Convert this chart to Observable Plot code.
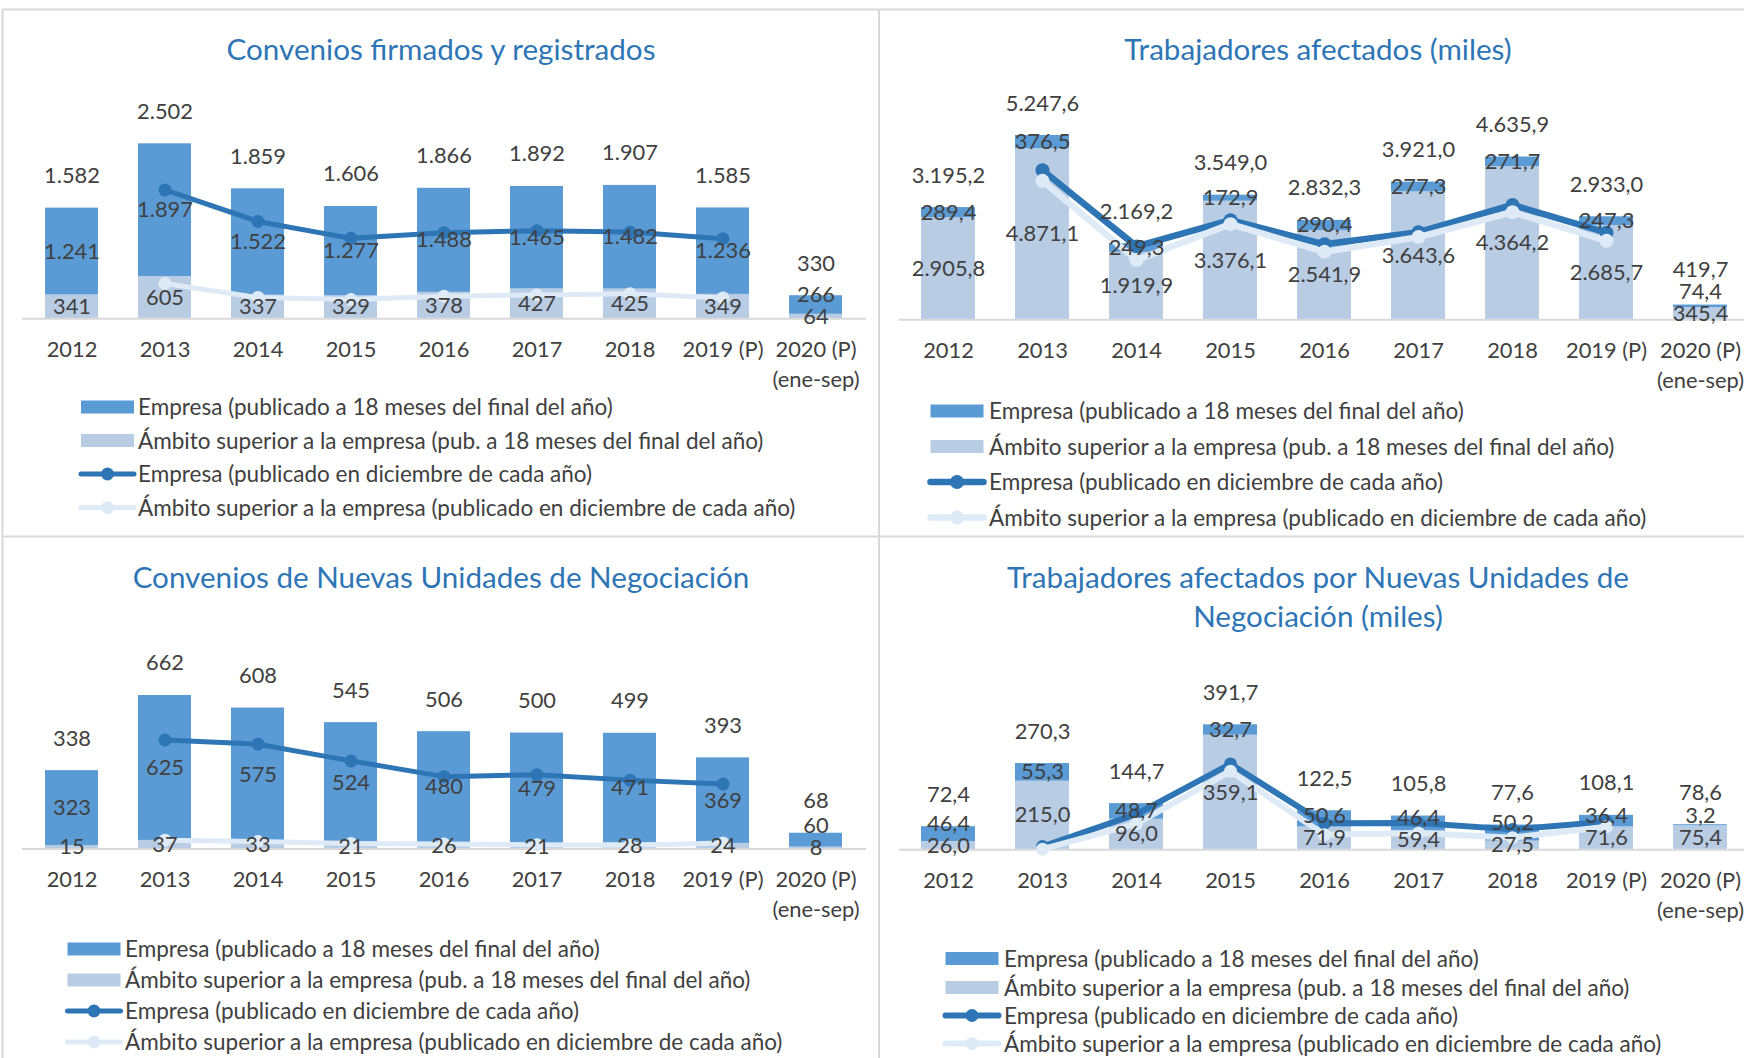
<!DOCTYPE html>
<html><head><meta charset="utf-8">
<script src="https://cdn.jsdelivr.net/npm/d3@7"></script>
<script src="https://cdn.jsdelivr.net/npm/@observablehq/plot@0.6"></script>
<style>
html,body{margin:0;padding:0;background:#fff;}
body{width:1744px;height:1058px;position:relative;overflow:hidden;}
</style></head><body>
<script>
// ---- categories ----
const years = ["2012","2013","2014","2015","2016","2017","2018","2019 (P)","2020 (P)"];
const lastYearLabel = "2020 (P)\n(ene-sep)";

// ---- Convenios firmados y registrados ----
const convEmpresa    = [1241,1897,1522,1277,1488,1465,1482,1236,266];
const convAmbito     = [341,605,337,329,378,427,425,349,64];
const convTotal      = [1582,2502,1859,1606,1866,1892,1907,1585,330];
const convEmpresaDic = [null,1843,1392,1150,1232,1260,1240,1145,null];
const convAmbitoDic  = [null,505,305,275,322,341,358,298,null];

// ---- Trabajadores afectados (miles) ----
const trabEmpresa    = [289.4,376.5,249.3,172.9,290.4,277.3,271.7,247.3,74.4];
const trabAmbito     = [2905.8,4871.1,1919.9,3376.1,2541.9,3643.6,4364.2,2685.7,345.4];
const trabTotal      = [3195.2,5247.6,2169.2,3549.0,2832.3,3921.0,4635.9,2933.0,419.7];
const trabEmpresaDic = [null,4260,2090,2838,2150,2494,3270,2480,null];
const trabAmbitoDic  = [null,3957,1700,2724,1935,2355,3064,2248,null];

// ---- Convenios de Nuevas Unidades de Negociación ----
const nuConvEmpresa    = [323,625,575,524,480,479,471,369,60];
const nuConvAmbito     = [15,37,33,21,26,21,28,24,8];
const nuConvTotal      = [338,662,608,545,506,500,499,393,68];
const nuConvEmpresaDic = [null,470,452,380,312,320,297,280,null];
const nuConvAmbitoDic  = [null,38,32,24,22,18,16,26,null];

// ---- Trabajadores afectados por Nuevas Unidades de Negociación (miles) ----
const nuTrabEmpresa    = [46.4,55.3,48.7,32.7,50.6,46.4,50.2,36.4,3.2];
const nuTrabAmbito     = [26.0,215.0,96.0,359.1,71.9,59.4,27.5,71.6,75.4];
const nuTrabTotal      = [72.4,270.3,144.7,391.7,122.5,105.8,77.6,108.1,78.6];
const nuTrabEmpresaDic = [null,10,112,269,83,84,64,88,null];
const nuTrabAmbitoDic  = [null,2,82,246,47,53,38,72,null];

const legendLabels = [
  "Empresa (publicado a 18 meses del final del año)",
  "Ámbito superior a la empresa (pub. a 18 meses del final del año)",
  "Empresa (publicado en diciembre de cada año)",
  "Ámbito superior a la empresa (publicado en diciembre de cada año)"
];

// ---- styling ----
const FONT = "Lato, 'Open Sans', sans-serif";
const C = {emp:"#5B9BD5", amb:"#B8CCE4", empDic:"#2E75B6", ambDic:"#DEEBF7", text:"#404040", title:"#2E75B6", grid:"#D9D9D9"};
const legendTypes = [["rect",C.emp],["rect",C.amb],["line",C.empDic],["line",C.ambDic]];

const locale = d3.formatLocale({decimal:",", thousands:".", grouping:[3], currency:["","€"]});
const fmtInt = locale.format(",.0f");
const fmtDec = locale.format(",.1f");

// calibrate font sizes against widths measured in the reference
const ctx = document.createElement("canvas").getContext("2d");
const measure = (s, size) => { ctx.font = `${size}px Lato`; return ctx.measureText(s).width; };
const fit = pairs => { let t = 0, m = 0; for (const [s, w] of pairs) { t += w; m += measure(s, 100); } return 100 * t / m; };
const labelSize = fit([["2012",47.7],["(ene-sep)",92.6],["2.502",53.3]]);
const legendSize = fit([[legendLabels[0],474],[legendLabels[3],659]]);
const titleSize = fit([["Convenios firmados y registrados",428.5],["Convenios de Nuevas Unidades de Negociación",609],["Trabajadores afectados (miles)",397]]);

const panels = [
  {title:["Convenios firmados y registrados"], titleX:441, titleY:[60],
   emp:convEmpresa, amb:convAmbito, tot:convTotal, empDic:convEmpresaDic, ambDic:convAmbitoDic, fmt:fmtInt,
   svgLeft:0, frame:[22,866], axisY:318.3, k:0.06994, svgTop:70, lineW:5, dotR:6.5,
   legend:{x:81, textX:138, rows:[407,440.5,474,507.5]}},
  {title:["Trabajadores afectados (miles)"], titleX:1318, titleY:[60],
   emp:trabEmpresa, amb:trabAmbito, tot:trabTotal, empDic:trabEmpresaDic, ambDic:trabAmbitoDic, fmt:fmtDec,
   svgLeft:879, frame:[899,1749], axisY:319.3, k:0.03512, svgTop:62, lineW:6.5, dotR:7,
   legend:{x:930.5, textX:989, rows:[411,446.5,482,517.5]}},
  {title:["Convenios de Nuevas Unidades de Negociación"], titleX:441, titleY:[588.3],
   emp:nuConvEmpresa, amb:nuConvAmbito, tot:nuConvTotal, empDic:nuConvEmpresaDic, ambDic:nuConvAmbitoDic, fmt:fmtInt,
   svgLeft:0, frame:[22,866], axisY:848.5, k:0.2319, svgTop:610, lineW:5, dotR:6.5,
   legend:{x:67.5, textX:125, rows:[949,980,1011,1042]}},
  {title:["Trabajadores afectados por Nuevas Unidades de","Negociación (miles)"], titleX:1318, titleY:[588.3,626.7],
   emp:nuTrabEmpresa, amb:nuTrabAmbito, tot:nuTrabTotal, empDic:nuTrabEmpresaDic, ambDic:nuTrabAmbitoDic, fmt:fmtDec,
   svgLeft:879, frame:[899,1749], axisY:849.3, k:0.3191, svgTop:640, lineW:6, dotR:6.5,
   legend:{x:945.5, textX:1004, rows:[958.5,987.5,1015.5,1043.5]}}
];

const GAP = 22, TOT_OFF = 32;

panels.forEach(p => {
  const W = 880;
  const inner = p.axisY - p.svgTop;
  const H = inner + 85;
  const ymax = d3.max(p.tot);
  const rows = [];
  years.forEach((c, i) => {
    rows.push({cat:c, serie:"amb", value:p.amb[i]});
    rows.push({cat:c, serie:"emp", value:p.emp[i]});
  });
  const labels = years.map((c, i) => {
    const ambC = p.amb[i] / 2;
    const empC = Math.max(p.amb[i] + p.emp[i] / 2, ambC + GAP / p.k);
    const totC = Math.max(p.tot[i] + TOT_OFF / p.k, empC + GAP / p.k);
    return {cat:c, ambC, empC, totC, amb:p.amb[i], emp:p.emp[i], tot:p.tot[i]};
  });
  const lineEmp = years.map((c, i) => ({cat:c, v:p.empDic[i]})).filter(d => d.v != null);
  const lineAmb = years.map((c, i) => ({cat:c, v:p.ambDic[i]})).filter(d => d.v != null);
  const txt = {fontSize:labelSize, fill:C.text};
  const chart = Plot.plot({
    width: W, height: H,
    marginLeft: p.frame[0] - p.svgLeft,
    marginRight: p.svgLeft + W - p.frame[1],
    marginTop: inner - p.k * ymax,
    marginBottom: H - inner,
    style: `font-family:${FONT};color:${C.text};background:transparent;overflow:visible;max-width:none;`,
    x: {domain: years, paddingInner: 0.43, paddingOuter: 0.21, label: null},
    y: {domain: [0, ymax], axis: null},
    color: {domain: ["amb","emp"], range: [C.amb, C.emp]},
    marks: [
      Plot.barY(rows, {x:"cat", y:"value", fill:"serie"}),
      Plot.ruleY([0], {stroke:C.grid, strokeWidth:2}),
      Plot.axisX({tickSize:0, tickPadding: 24.5 - 0.36 * labelSize, fontSize: labelSize, lineHeight: 30 / labelSize,
                  label: null, fill: C.text, tickFormat: d => d === "2020 (P)" ? lastYearLabel : d}),
      Plot.line(lineEmp, {x:"cat", y:"v", stroke:C.empDic, strokeWidth:p.lineW}),
      Plot.dot(lineEmp, {x:"cat", y:"v", fill:C.empDic, r:p.dotR}),
      Plot.line(lineAmb, {x:"cat", y:"v", stroke:C.ambDic, strokeWidth:p.lineW}),
      Plot.dot(lineAmb, {x:"cat", y:"v", fill:C.ambDic, r:p.dotR}),
      Plot.text(labels, {x:"cat", y:"ambC", text: d => p.fmt(d.amb), ...txt}),
      Plot.text(labels, {x:"cat", y:"empC", text: d => p.fmt(d.emp), ...txt}),
      Plot.text(labels, {x:"cat", y:"totC", text: d => p.fmt(d.tot), ...txt})
    ]
  });
  const div = document.createElement("div");
  div.style.cssText = `position:absolute;left:${p.svgLeft}px;top:${p.svgTop}px;width:${W}px;height:${H}px;`;
  div.append(chart);
  document.body.append(div);
});

// overlay: panel borders, titles, legends
const ov = d3.select(document.body).append("svg")
  .attr("width",1744).attr("height",1058)
  .style("position","absolute").style("left","0px").style("top","0px")
  .style("pointer-events","none").style("font-family",FONT);
[[2,9.5,1744,9.5],[2.5,9,2.5,1058],[879,9,879,1058],[2,536.5,1744,536.5]].forEach(([x1,y1,x2,y2]) =>
  ov.append("line").attr("x1",x1).attr("y1",y1).attr("x2",x2).attr("y2",y2).attr("stroke",C.grid).attr("stroke-width",2));

panels.forEach(p => {
  p.title.forEach((t, j) => ov.append("text").attr("x",p.titleX).attr("y",p.titleY[j])
    .attr("text-anchor","middle").attr("font-size",titleSize).attr("fill",C.title).text(t));
  p.legend.rows.forEach((ry, j) => {
    const [type, color] = legendTypes[j];
    const x0 = p.legend.x;
    if (type === "rect") {
      ov.append("rect").attr("x",x0).attr("y",ry - 6.5).attr("width",53).attr("height",13).attr("fill",color);
    } else {
      ov.append("line").attr("x1",x0).attr("x2",x0 + 53).attr("y1",ry).attr("y2",ry)
        .attr("stroke",color).attr("stroke-width",p.lineW).attr("stroke-linecap","round");
      ov.append("circle").attr("cx",x0 + 26.5).attr("cy",ry).attr("r",p.dotR).attr("fill",color);
    }
    ov.append("text").attr("x",p.legend.textX).attr("y",ry + 0.36 * legendSize)
      .attr("font-size",legendSize).attr("fill",C.text).text(legendLabels[j]);
  });
});
</script>
</body></html>
